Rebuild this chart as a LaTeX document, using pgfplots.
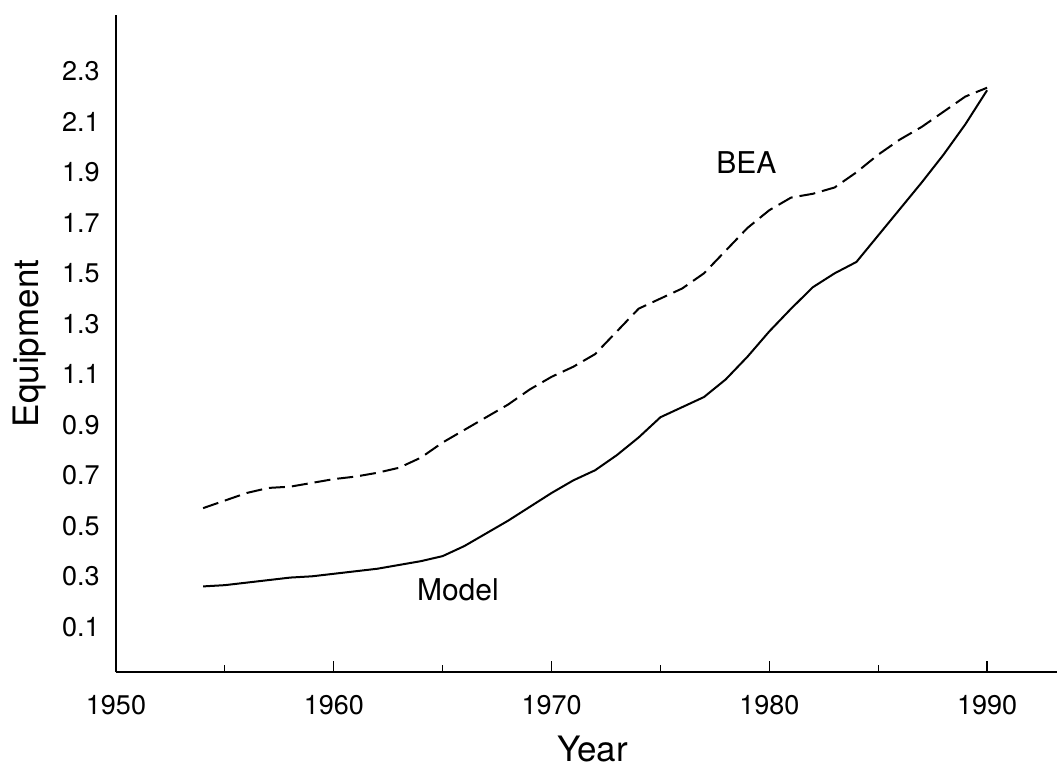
\documentclass[border=0pt]{standalone}
\usepackage{fontspec}
\setmainfont{TeX Gyre Heros}
\usepackage{pgfplots}
\pgfplotsset{compat=1.18}
\begin{document}
\begin{tikzpicture}
\begin{axis}[
  scale only axis, width=470.5pt, height=328.5pt,
  xmin=1950, xmax=1993.21, ymin=-0.079, ymax=2.523,
  axis x line=bottom, axis y line=left,
  axis line style={line width=1pt, -},
  xtick={1950,1960,1970,1980,1990},
  xticklabels={1950,1960,1970,1980,1990},
  minor xtick={1955,1965,1975,1985},
  ytick={0.1,0.3,0.5,0.7,0.9,1.1,1.3,1.5,1.7,1.9,2.1,2.3},
  yticklabels={0.1,0.3,0.5,0.7,0.9,1.1,1.3,1.5,1.7,1.9,2.1,2.3},
  tick align=inside,
  major tick length=5.5pt, minor tick length=3.5pt,
  xtick style={line width=0.6pt, black},
  ytick style={draw=none},
  /pgf/number format/assume math mode=true,
  xticklabel style={font=\fontsize{13.5}{16}\selectfont, anchor=north, inner sep=0pt, yshift=-11.5pt},
  yticklabel style={font=\fontsize{13.5}{16}\selectfont, anchor=east, inner sep=0pt, xshift=-8pt},
  xlabel={Year},
  ylabel={Equipment},
  xlabel style={font=\fontsize{17.5}{20}\selectfont, at={([xshift=3pt,yshift=-32pt]axis description cs:0.5,0)}, anchor=north, inner sep=0pt},
  ylabel style={font=\fontsize{17.5}{20}\selectfont, at={([xshift=-51.5pt]axis description cs:0,0.5)}, anchor=north, inner sep=0pt},
  clip=false,
]
\addplot[black, line width=1pt] coordinates {
(1954,0.26) (1955,0.265) (1956,0.275) (1957,0.285) (1958,0.295) (1959,0.30)
(1960,0.31) (1961,0.32) (1962,0.33) (1963,0.345) (1964,0.36) (1965,0.38)
(1966,0.42) (1967,0.47) (1968,0.52) (1969,0.575) (1970,0.63) (1971,0.68)
(1972,0.72) (1973,0.78) (1974,0.85) (1975,0.93) (1976,0.97) (1977,1.01)
(1978,1.08) (1979,1.17) (1980,1.27) (1981,1.36) (1982,1.445) (1983,1.50)
(1984,1.545) (1985,1.65) (1986,1.755) (1987,1.86) (1988,1.97) (1989,2.09)
(1990,2.225)
};
\addplot[black, line width=1pt, dash pattern=on 8pt off 3.5pt] coordinates {
(1954,0.57) (1955,0.60) (1956,0.63) (1957,0.65) (1958,0.655) (1959,0.67)
(1960,0.685) (1961,0.695) (1962,0.71) (1963,0.73) (1964,0.77) (1965,0.83)
(1966,0.88) (1967,0.93) (1968,0.98) (1969,1.04) (1970,1.09) (1971,1.13)
(1972,1.18) (1973,1.27) (1974,1.36) (1975,1.40) (1976,1.44) (1977,1.50)
(1978,1.59) (1979,1.68) (1980,1.75) (1981,1.80) (1982,1.815) (1983,1.84)
(1984,1.90) (1985,1.97) (1986,2.03) (1987,2.08) (1988,2.14) (1989,2.20)
(1990,2.235)
};
\node[font=\fontsize{15}{18}\selectfont, inner sep=0pt] at (axis cs:1978.95,1.937) {BEA};
\node[font=\fontsize{15}{18}\selectfont, inner sep=0pt] at (axis cs:1965.7,0.245) {Model};
\coordinate (SW) at (rel axis cs:0,0);
\coordinate (NE) at (rel axis cs:1,1);
\end{axis}
\pgfresetboundingbox
\path ([shift={(-58pt,-48.5pt)}]SW) rectangle ([shift={(0pt,7.5pt)}]NE);
\end{tikzpicture}
\end{document}
